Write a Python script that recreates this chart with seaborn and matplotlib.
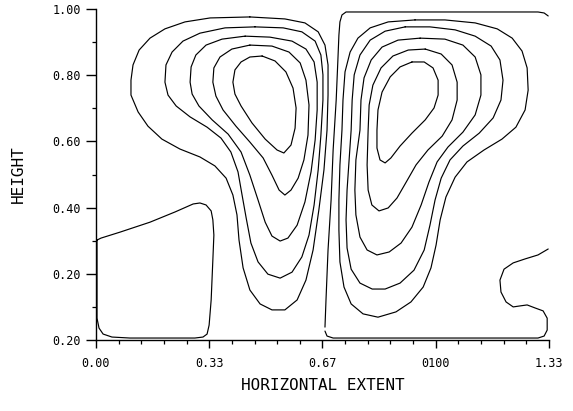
import numpy as np
import pandas as pd
import matplotlib
matplotlib.use("Agg")
import matplotlib.pyplot as plt
import seaborn as sns
from matplotlib.ticker import FixedLocator, MultipleLocator

# Streamline traces: (horizontal extent, height) pairs for each contour level.
# Left cell, outermost to innermost
left1_x = [0.103, 0.103, 0.109, 0.127, 0.159, 0.203, 0.262, 0.336, 0.453, 0.556, 0.615, 0.654, 0.674, 0.683,
           0.683, 0.680, 0.671, 0.656, 0.639, 0.618, 0.592, 0.556, 0.518, 0.483, 0.453, 0.433, 0.421, 0.415,
           0.403, 0.383, 0.350, 0.306, 0.247, 0.194, 0.153, 0.124, 0.103]
left1_y = [0.740, 0.785, 0.831, 0.876, 0.912, 0.940, 0.961, 0.973, 0.976, 0.970, 0.958, 0.931, 0.891, 0.831,
           0.740, 0.634, 0.514, 0.393, 0.272, 0.181, 0.121, 0.091, 0.091, 0.109, 0.151, 0.218, 0.302, 0.378,
           0.438, 0.489, 0.526, 0.553, 0.577, 0.607, 0.646, 0.689, 0.740]

left2_x = [0.203, 0.206, 0.224, 0.256, 0.306, 0.380, 0.468, 0.551, 0.606, 0.645, 0.662, 0.668, 0.668, 0.662,
           0.654, 0.642, 0.627, 0.606, 0.577, 0.542, 0.506, 0.477, 0.456, 0.442, 0.430, 0.418, 0.397, 0.368,
           0.327, 0.277, 0.236, 0.212, 0.203]
left2_y = [0.779, 0.831, 0.870, 0.903, 0.927, 0.943, 0.946, 0.943, 0.931, 0.903, 0.861, 0.801, 0.725, 0.619,
           0.514, 0.408, 0.317, 0.251, 0.205, 0.187, 0.199, 0.236, 0.293, 0.369, 0.438, 0.508, 0.568, 0.610,
           0.643, 0.674, 0.707, 0.740, 0.779]

left3_x = [0.277, 0.280, 0.294, 0.324, 0.371, 0.439, 0.512, 0.577, 0.618, 0.642, 0.651, 0.651, 0.645, 0.633,
           0.615, 0.592, 0.565, 0.542, 0.518, 0.498, 0.477, 0.453, 0.427, 0.389, 0.342, 0.303, 0.283, 0.277]
left3_y = [0.779, 0.825, 0.861, 0.891, 0.909, 0.918, 0.915, 0.903, 0.879, 0.840, 0.779, 0.695, 0.604, 0.508,
           0.417, 0.347, 0.308, 0.299, 0.314, 0.356, 0.423, 0.498, 0.568, 0.622, 0.665, 0.707, 0.743, 0.779]

left4_x = [0.344, 0.347, 0.365, 0.400, 0.453, 0.518, 0.568, 0.601, 0.618, 0.627, 0.624, 0.612, 0.595, 0.574,
           0.556, 0.539, 0.518, 0.492, 0.453, 0.412, 0.374, 0.353, 0.344]
left4_y = [0.779, 0.822, 0.855, 0.879, 0.891, 0.888, 0.870, 0.837, 0.785, 0.710, 0.619, 0.544, 0.489, 0.453,
           0.438, 0.453, 0.498, 0.550, 0.598, 0.646, 0.695, 0.737, 0.779]

left5_x = [0.403, 0.409, 0.427, 0.453, 0.489, 0.527, 0.559, 0.580, 0.589, 0.586, 0.574, 0.553, 0.533, 0.498,
           0.459, 0.427, 0.409, 0.403]
left5_y = [0.779, 0.816, 0.840, 0.855, 0.858, 0.843, 0.810, 0.761, 0.701, 0.640, 0.589, 0.565, 0.574, 0.607,
           0.656, 0.707, 0.743, 0.779]

# Right cell, outermost to innermost
right1_x = [0.724, 0.727, 0.733, 0.748, 0.771, 0.807, 0.860, 0.939, 1.027, 1.116, 1.181, 1.225, 1.254, 1.269,
            1.272, 1.263, 1.236, 1.195, 1.142, 1.092, 1.057, 1.030, 1.013, 1.001, 0.986, 0.963, 0.927, 0.883,
            0.830, 0.786, 0.751, 0.730, 0.718, 0.715, 0.715, 0.718, 0.724]
right1_y = [0.634, 0.725, 0.810, 0.870, 0.912, 0.943, 0.961, 0.967, 0.967, 0.958, 0.940, 0.912, 0.873, 0.822,
            0.755, 0.695, 0.643, 0.607, 0.574, 0.538, 0.492, 0.432, 0.363, 0.287, 0.218, 0.160, 0.115, 0.085,
            0.069, 0.079, 0.109, 0.160, 0.236, 0.332, 0.423, 0.529, 0.634]

right2_x = [0.751, 0.754, 0.760, 0.777, 0.807, 0.851, 0.910, 0.983, 1.057, 1.116, 1.163, 1.189, 1.198, 1.192,
            1.169, 1.128, 1.080, 1.042, 1.016, 0.998, 0.983, 0.966, 0.936, 0.895, 0.851, 0.813, 0.777, 0.751,
            0.739, 0.736, 0.739, 0.745, 0.751]
right2_y = [0.634, 0.725, 0.801, 0.861, 0.906, 0.933, 0.946, 0.946, 0.937, 0.918, 0.888, 0.846, 0.785, 0.725,
            0.671, 0.625, 0.586, 0.544, 0.489, 0.423, 0.347, 0.272, 0.211, 0.172, 0.154, 0.154, 0.172, 0.214,
            0.278, 0.363, 0.453, 0.544, 0.634]

right3_x = [0.777, 0.780, 0.789, 0.810, 0.842, 0.889, 0.954, 1.027, 1.080, 1.116, 1.133, 1.133, 1.116, 1.080,
            1.036, 1.004, 0.980, 0.957, 0.930, 0.898, 0.863, 0.827, 0.798, 0.777, 0.765, 0.762, 0.765, 0.777]
right3_y = [0.634, 0.725, 0.792, 0.846, 0.885, 0.906, 0.912, 0.909, 0.891, 0.855, 0.801, 0.740, 0.680, 0.628,
            0.583, 0.538, 0.477, 0.408, 0.341, 0.293, 0.266, 0.257, 0.272, 0.311, 0.378, 0.453, 0.544, 0.634]

right4_x = [0.801, 0.804, 0.815, 0.839, 0.874, 0.919, 0.969, 1.016, 1.048, 1.063, 1.063, 1.048, 1.019, 0.977,
            0.942, 0.913, 0.886, 0.860, 0.833, 0.812, 0.801, 0.798, 0.801]
right4_y = [0.634, 0.710, 0.770, 0.822, 0.858, 0.876, 0.879, 0.864, 0.831, 0.779, 0.725, 0.665, 0.616, 0.574,
            0.529, 0.477, 0.429, 0.399, 0.390, 0.408, 0.453, 0.529, 0.634]

right5_x = [0.827, 0.830, 0.842, 0.866, 0.895, 0.930, 0.966, 0.992, 1.007, 1.007, 0.995, 0.969, 0.930, 0.895,
            0.868, 0.851, 0.836, 0.827, 0.827]
right5_y = [0.634, 0.695, 0.749, 0.795, 0.825, 0.840, 0.840, 0.822, 0.785, 0.740, 0.701, 0.665, 0.625, 0.586,
            0.550, 0.535, 0.544, 0.580, 0.634]

# Zero streamline: dividing line and top lid of the right cell
zero_top_x = [0.674, 0.677, 0.683, 0.692, 0.698, 0.707, 0.712, 0.715, 0.718, 0.724, 0.736, 1.301, 1.319, 1.331]
zero_top_y = [0.039, 0.121, 0.272, 0.423, 0.574, 0.725, 0.846, 0.921, 0.961, 0.982, 0.991, 0.991, 0.988, 0.979]

# Zero streamline: floor of the right cell and the corner eddy
zero_bottom_x = [0.674, 0.680, 0.698, 0.733, 1.301, 1.319, 1.328, 1.328, 1.316, 1.292, 1.269, 1.248, 1.228,
                 1.207, 1.192, 1.189, 1.201, 1.228, 1.263, 1.301, 1.331]
zero_bottom_y = [0.027, 0.012, 0.006, 0.006, 0.006, 0.012, 0.030, 0.066, 0.088, 0.097, 0.106, 0.103, 0.100,
                 0.115, 0.145, 0.181, 0.214, 0.233, 0.245, 0.257, 0.275]

# Lower-left corner region
corner_x = [0.003, 0.015, 0.071, 0.159, 0.233, 0.286, 0.306, 0.324, 0.339, 0.344, 0.347, 0.344, 0.339, 0.333,
            0.327, 0.315, 0.291, 0.100, 0.047, 0.021, 0.009, 0.003, 0.003, 0.003]
corner_y = [0.302, 0.308, 0.326, 0.356, 0.387, 0.411, 0.414, 0.408, 0.390, 0.363, 0.317, 0.242, 0.121, 0.045,
            0.018, 0.009, 0.006, 0.006, 0.009, 0.018, 0.036, 0.066, 0.181, 0.302]

# Axis ticks and their printed labels
x_ticks = [0.0, 1 / 3, 2 / 3, 1.0, 4 / 3]
x_tick_labels = ["0.00", "0.33", "0.67", "0100", "1.33"]
y_ticks = [0.0, 0.2, 0.4, 0.6, 0.8, 1.0]
y_tick_labels = ["0.20", "0.20", "0.40", "0.60", "0.80", "1.00"]

closed_loops = {
    "left1": (left1_x, left1_y), "left2": (left2_x, left2_y), "left3": (left3_x, left3_y),
    "left4": (left4_x, left4_y), "left5": (left5_x, left5_y),
    "right1": (right1_x, right1_y), "right2": (right2_x, right2_y), "right3": (right3_x, right3_y),
    "right4": (right4_x, right4_y), "right5": (right5_x, right5_y),
}
open_lines = {
    "zero_top": (zero_top_x, zero_top_y), "zero_bottom": (zero_bottom_x, zero_bottom_y),
    "corner": (corner_x, corner_y),
}


def start_at_top(xs, ys):
    """Reorder a closed loop so its seam sits on the flat top of the curve."""
    xs, ys = np.asarray(xs[:-1]), np.asarray(ys[:-1])
    k = int(np.argmax(ys))
    xs, ys = np.roll(xs, -k), np.roll(ys, -k)
    return np.append(xs, xs[0]), np.append(ys, ys[0])


frames = []
for name, (xs, ys) in closed_loops.items():
    xs, ys = start_at_top(xs, ys)
    frames.append(pd.DataFrame({"x": xs, "y": ys, "line": name}))
for name, (xs, ys) in open_lines.items():
    frames.append(pd.DataFrame({"x": xs, "y": ys, "line": name}))
df = pd.concat(frames, ignore_index=True)

sns.set_style("ticks")
plt.rcParams["font.family"] = ["DejaVu Sans Mono", "DejaVu Sans"]

fig = plt.figure(figsize=(5.73, 4.11), dpi=100)
ax = fig.add_axes([0.1675, 0.1727, 0.7906, 0.8054])

sns.lineplot(data=df, x="x", y="y", units="line", estimator=None, sort=False,
             color="black", linewidth=0.85, ax=ax, legend=False)
for line in ax.lines:
    line.set_solid_joinstyle("round")
    line.set_solid_capstyle("round")

ax.set_xlim(0, 4 / 3)
ax.set_ylim(0, 1.0)
sns.despine(ax=ax)
for side in ("left", "bottom"):
    ax.spines[side].set_linewidth(1.0)
    ax.spines[side].set_color("black")

ax.set_xticks(x_ticks)
ax.set_xticklabels(x_tick_labels)
ax.set_yticks(y_ticks)
ax.set_yticklabels(y_tick_labels)
ax.xaxis.set_minor_locator(FixedLocator([k / 15 for k in range(21)]))
ax.yaxis.set_minor_locator(MultipleLocator(0.1))

ax.tick_params(axis="x", which="major", direction="out", length=6, width=1, pad=6,
               labelsize=8.5, colors="black")
ax.tick_params(axis="y", which="major", direction="out", length=7, width=1, pad=4,
               labelsize=8.5, colors="black")
ax.tick_params(which="minor", direction="out", length=3, width=0.9, colors="black")

ax.set_xlabel("HORIZONTAL EXTENT", fontsize=11.5, color="black")
ax.set_ylabel("HEIGHT", fontsize=11.5, color="black")
ax.xaxis.set_label_coords(0.5, -0.115)
ax.yaxis.set_label_coords(-0.155, 0.5)

fig.savefig("out.png", dpi=100, facecolor="white")
